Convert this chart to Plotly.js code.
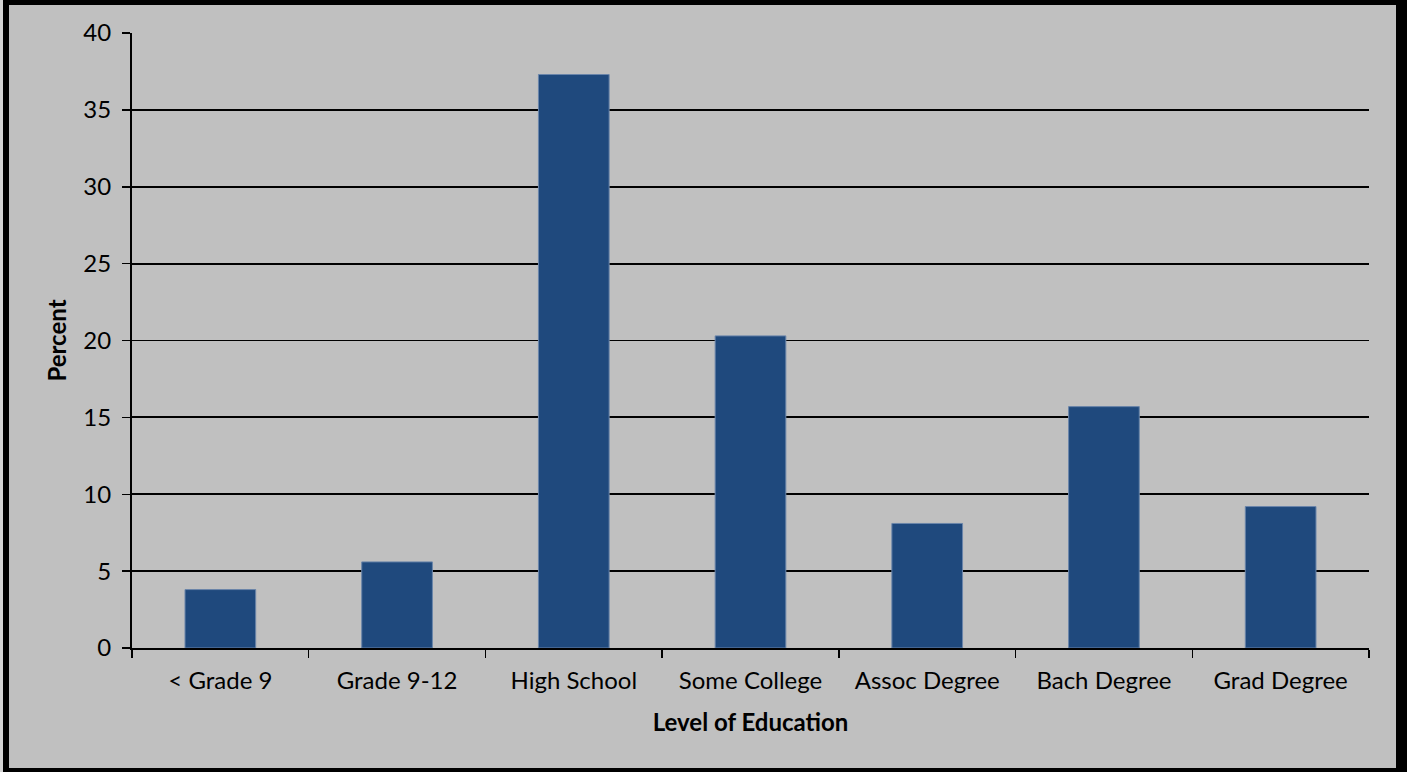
<!DOCTYPE html>
<html>
<head>
<meta charset="utf-8">
<script src="https://cdn.plot.ly/plotly-3.0.1.min.js"></script>
<style>
  html, body { margin: 0; padding: 0; background: #d4d4d4; width: 1407px; height: 772px; overflow: hidden; }
  #frame { position: absolute; left: 3px; top: 0; width: 1404px; height: 772px; box-sizing: border-box;
           border-style: solid; border-color: #000; border-width: 5px 11px 4px 6px; background: #c0c0c0; }
  #chart { width: 1387px; height: 763px; }
</style>
</head>
<body>
<div id="frame"><div id="chart"></div></div>
<script>
const categories = ['< Grade 9', 'Grade 9-12', 'High School', 'Some College', 'Assoc Degree', 'Bach Degree', 'Grad Degree'];
const percentValues = [3.8, 5.6, 37.3, 20.3, 8.1, 15.7, 9.2];
const yTickValues = [0, 5, 10, 15, 20, 25, 30, 35, 40];

const font = 'Lato, "Open Sans", sans-serif';

Plotly.newPlot('chart', [{
  type: 'bar',
  x: categories,
  y: percentValues,
  marker: { color: '#1F497D', line: { color: '#6a85aa', width: 1 } },
  width: 0.4,
  hoverinfo: 'x+y'
}], {
  width: 1387,
  height: 763,
  paper_bgcolor: '#c0c0c0',
  plot_bgcolor: '#c0c0c0',
  margin: { l: 123, r: 27, t: 27.5, b: 120 },
  showlegend: false,
  font: { family: font, color: '#000', size: 24 },
  xaxis: {
    type: 'category',
    showline: true, linecolor: '#000', linewidth: 2,
    ticks: 'outside', tickson: 'boundaries', ticklen: 8, tickwidth: 1.5, tickcolor: '#000',
    showgrid: false,
    ticklabelstandoff: 10,
    tickfont: { family: font, size: 24, color: '#000' },
    title: { text: '<b>Level of Education</b>', font: { family: font, size: 24, color: '#000' }, standoff: 21 }
  },
  yaxis: {
    range: [0, 40],
    tickvals: yTickValues,
    showline: true, linecolor: '#000', linewidth: 2,
    ticks: 'outside', ticklen: 8, tickwidth: 1.5, tickcolor: '#000',
    showgrid: true, gridcolor: '#000', gridwidth: 1.8,
    zeroline: false,
    ticklabelstandoff: 6,
    tickfont: { family: font, size: 24, color: '#000' },
    title: { text: '<b>Percent</b>', font: { family: font, size: 24, color: '#000' }, standoff: 10 }
  }
}, { displayModeBar: false, staticPlot: true });
</script>
</body>
</html>
